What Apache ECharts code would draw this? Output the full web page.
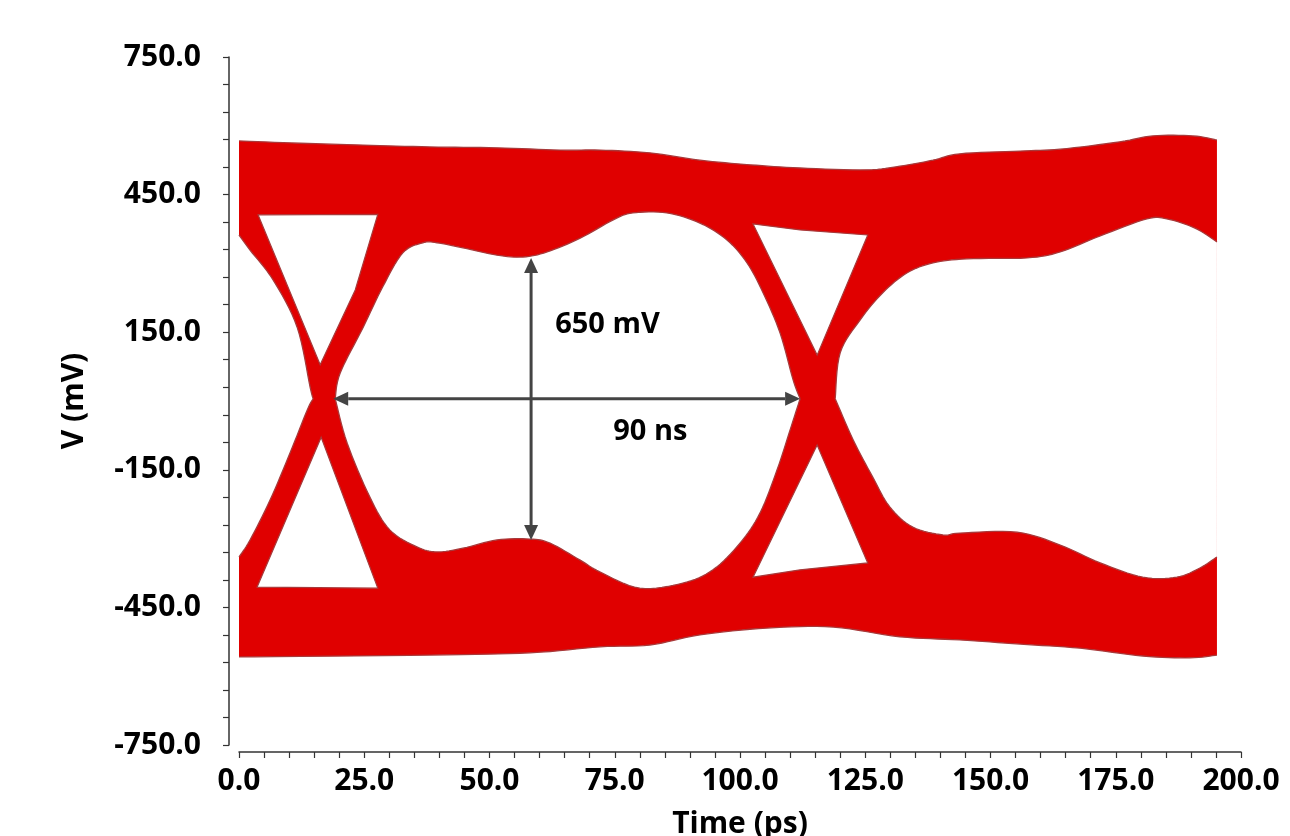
<!DOCTYPE html>
<html>
<head>
<meta charset="utf-8">
<script src="https://cdn.jsdelivr.net/npm/echarts@6/dist/echarts.min.js"></script>
<style>
html,body{margin:0;padding:0;background:#fff;}
#chart{width:1290px;height:836px;}
</style>
</head>
<body>
<div id="chart"></div>
<script>
// ---- data (t in ps, v in mV) ----
const yTickValues = [-750, -450, -150, 150, 450, 750];
const yMinorTickValues = [-750,-690,-630,-570,-510,-450,-390,-330,-270,-210,-150,-90,-30,30,90,150,210,270,330,390,450,510,570,630,690,750];

// outer envelope of all traces
const envelopeTop = [[0,567],[12.2,562],[24.8,558],[38.1,554],[51.5,552],[64.1,547],[72.1,547],[82,541],[92,525],[102,515],[112,508],[125.3,504],[131.9,512],[138.5,525],[143.9,539],[155.9,545],[163.9,549],[175.8,565],[182.4,578],[190.4,578],[195.2,569]];
const envelopeBottom = [[0,-558],[38.1,-554],[58.1,-549],[72.1,-536],[82,-532],[92,-510],[105.4,-495],[118.6,-493],[131.9,-514],[143.9,-521],[155.9,-530],[167.9,-539],[180.4,-556],[189.8,-560],[195.2,-554]];

// openings (white regions)
const leftWedgeUpper = [[0,362],[2.2,329],[6.8,264],[11.6,161],[14.2,30],[14.8,5]];
const leftWedgeLower = [[14.8,5],[13.6,-20],[10.2,-113],[6.2,-216],[2.2,-303],[0,-340]];
const upperLeftTri = [[3.8,406],[27.7,407],[23.2,242],[16.2,79]];
const lowerLeftTri = [[16.4,-79],[27.7,-408],[3.6,-406]];
const eyeUpper = [[19.2,5],[20.2,61],[24.8,161],[28.7,249],[32.7,323],[36.7,345],[39.5,345],[44.7,334],[51.5,318],[56.7,314],[61.5,325],[68.1,355],[74.7,395],[78.6,410],[85.4,410],[92,388],[97.4,351],[101.4,301],[104.6,236],[108,148],[110.6,46],[112,5]];
const eyeLower = [[19.2,5],[21.6,-92],[26.1,-209],[30.1,-281],[35.5,-318],[39.5,-329],[44.7,-321],[51.5,-303],[58.1,-301],[62.1,-310],[68.1,-347],[72.1,-373],[80,-408],[88.6,-397],[94.6,-368],[100,-310],[104,-244],[107.4,-150],[110,-63],[112,5]];
const upperRightTri = [[102.6,386],[112,373],[125.5,362],[115.4,100]];
const lowerRightTri = [[115.4,-96],[125.5,-353],[112,-368],[102.6,-384]];
const rightUpper = [[119,5],[120,105],[124,177],[128.5,236],[133.3,279],[138.5,301],[145.3,310],[157.3,312],[163.9,325],[171.9,360],[181.2,397],[185.2,397],[190.8,377],[195.2,347]];
const rightLower = [[119,5],[122.6,-85],[126.5,-166],[129.9,-231],[134.5,-275],[140.5,-292],[143.9,-288],[155.3,-286],[163.9,-314],[171.9,-353],[180.4,-384],[187.2,-384],[191.8,-364],[195.2,-340]];

// annotation arrows [t1, v1, t2, v2] and texts [t, v, text]
const arrows = [[58.3, 312, 58.3, -303], [18.8, 5, 112, 5]];
const notes = [[63.1, 166, '650 mV'], [74.7, -68, '90 ns']];

// ---- styles ----
const RED = '#e00000';
const EDGE = '#a8393a';
const FONT = '"Open Sans", Lato, sans-serif';

function rev(a){ return a.slice().reverse(); }

// Catmull-Rom smoothing of a pixel polyline (rendering only)
function smoothPx(pts) {
  if (pts.length < 3) return pts.slice();
  const out = [];
  for (let i = 0; i < pts.length - 1; i++) {
    const p0 = pts[Math.max(0, i - 1)], p1 = pts[i], p2 = pts[i + 1], p3 = pts[Math.min(pts.length - 1, i + 2)];
    const n = 8;
    for (let k = 0; k < n; k++) {
      const t = k / n, t2 = t * t, t3 = t2 * t;
      out.push([
        0.5 * ((2 * p1[0]) + (-p0[0] + p2[0]) * t + (2 * p0[0] - 5 * p1[0] + 4 * p2[0] - p3[0]) * t2 + (-p0[0] + 3 * p1[0] - 3 * p2[0] + p3[0]) * t3),
        0.5 * ((2 * p1[1]) + (-p0[1] + p2[1]) * t + (2 * p0[1] - 5 * p1[1] + 4 * p2[1] - p3[1]) * t2 + (-p0[1] + 3 * p1[1] - 3 * p2[1] + p3[1]) * t3)
      ]);
    }
  }
  out.push(pts[pts.length - 1]);
  return out;
}

// curves: list of [dataPoints, smooth?]; polygon = concatenation
function shapeSeries(name, curves, strokeIdx, fill, closedStroke) {
  const all = [];
  curves.forEach(c => c[0].forEach(p => all.push(p)));
  return {
    type: 'custom', name: name, coordinateSystem: 'cartesian2d',
    data: all, encode: {x: 0, y: 1}, silent: true, animation: false,
    renderItem: function (params, api) {
      if (params.dataIndex !== 0) return;
      const pxCurves = curves.map(c => {
        const px = c[0].map(p => api.coord(p));
        return c[1] ? smoothPx(px) : px;
      });
      let poly = [];
      pxCurves.forEach(c => { poly = poly.concat(c); });
      const children = [{
        type: 'polygon', shape: {points: poly},
        style: {fill: fill, stroke: closedStroke ? EDGE : null, lineWidth: 1.2}
      }];
      strokeIdx.forEach(function (i) {
        children.push({type: 'polyline', shape: {points: pxCurves[i]}, style: {fill: null, stroke: EDGE, lineWidth: 1.3}});
      });
      return {type: 'group', children: children};
    }
  };
}

const series = [
  shapeSeries('envelope', [[envelopeTop, true], [rev(envelopeBottom), true]], [0, 1], RED, false),
  shapeSeries('leftWedge', [[leftWedgeUpper, true], [leftWedgeLower, true]], [0, 1], '#fff', false),
  shapeSeries('ulTri', [[upperLeftTri, false]], [], '#fff', true),
  shapeSeries('llTri', [[lowerLeftTri, false]], [], '#fff', true),
  shapeSeries('eye', [[eyeUpper, true], [rev(eyeLower), true]], [0, 1], '#fff', false),
  shapeSeries('urTri', [[upperRightTri, false]], [], '#fff', true),
  shapeSeries('lrTri', [[lowerRightTri, false]], [], '#fff', true),
  shapeSeries('rightOpen', [[rightUpper, true], [rev(rightLower), true]], [0, 1], '#fff', false),
  {
    type: 'custom', name: 'arrows', coordinateSystem: 'cartesian2d',
    data: arrows, encode: {x: [0, 2], y: [1, 3]}, silent: true, animation: false, z: 5,
    renderItem: function (params, api) {
      const a = api.coord([api.value(0), api.value(1)]);
      const b = api.coord([api.value(2), api.value(3)]);
      const dx = b[0] - a[0], dy = b[1] - a[1];
      const L = Math.sqrt(dx * dx + dy * dy);
      const ux = dx / L, uy = dy / L, nx = -uy, ny = ux;
      const hl = 15, hw = 7;
      const col = '#444444';
      function head(tip, sx, sy) {
        const bx = tip[0] + sx * hl, by = tip[1] + sy * hl;
        return {type: 'polygon', shape: {points: [tip, [bx + nx * hw, by + ny * hw], [bx - nx * hw, by - ny * hw]]}, style: {fill: col}};
      }
      return {type: 'group', children: [
        {type: 'line', shape: {x1: a[0] + ux * hl, y1: a[1] + uy * hl, x2: b[0] - ux * hl, y2: b[1] - uy * hl}, style: {stroke: col, lineWidth: 3}},
        head(a, ux, uy),
        head(b, -ux, -uy)
      ]};
    }
  },
  {
    type: 'custom', name: 'notes', coordinateSystem: 'cartesian2d',
    data: notes, encode: {x: 0, y: 1}, silent: true, animation: false, z: 6,
    renderItem: function (params, api) {
      const p = api.coord([api.value(0), api.value(1)]);
      return {type: 'text', x: p[0], y: p[1], style: {text: notes[params.dataIndex][2], fill: '#000', font: 'bold 29px ' + FONT, textAlign: 'left', textVerticalAlign: 'middle'}};
    }
  }
];

const labelStyle = {fontFamily: FONT, fontWeight: 'bold', fontSize: 30, color: '#000'};

const chart = echarts.init(document.getElementById('chart'), null, {renderer: 'canvas'});
chart.setOption({
  backgroundColor: '#ffffff',
  animation: false,
  grid: {left: 239, right: 49, top: 57, bottom: 91, containLabel: false, outerBoundsMode: 'none'},
  xAxis: {
    type: 'value', min: 0, max: 200, interval: 25, offset: 7,
    name: 'Time (ps)', nameLocation: 'middle', nameGap: 57,
    nameTextStyle: labelStyle,
    axisLine: {show: true, onZero: false, lineStyle: {color: '#333', width: 1.5}},
    axisTick: {show: true, length: 6, inside: false, lineStyle: {color: '#333', width: 1.2}},
    minorTick: {show: true, splitNumber: 5, length: 6, lineStyle: {color: '#333', width: 1.2}},
    splitLine: {show: false},
    axisLabel: Object.assign({margin: 14, formatter: v => v.toFixed(1)}, labelStyle)
  },
  yAxis: {
    type: 'value', min: -750, max: 750, offset: 10,
    name: 'V (mV)', nameLocation: 'middle', nameGap: 140,
    nameTextStyle: labelStyle,
    axisLine: {show: true, onZero: false, lineStyle: {color: '#333', width: 1.5}},
    axisTick: {show: true, length: 6, inside: false, customValues: yMinorTickValues, lineStyle: {color: '#333', width: 1.2}},
    splitLine: {show: false},
    axisLabel: Object.assign({margin: 28, customValues: yTickValues, formatter: v => v.toFixed(1)}, labelStyle)
  },
  series: series
});
</script>
</body>
</html>
